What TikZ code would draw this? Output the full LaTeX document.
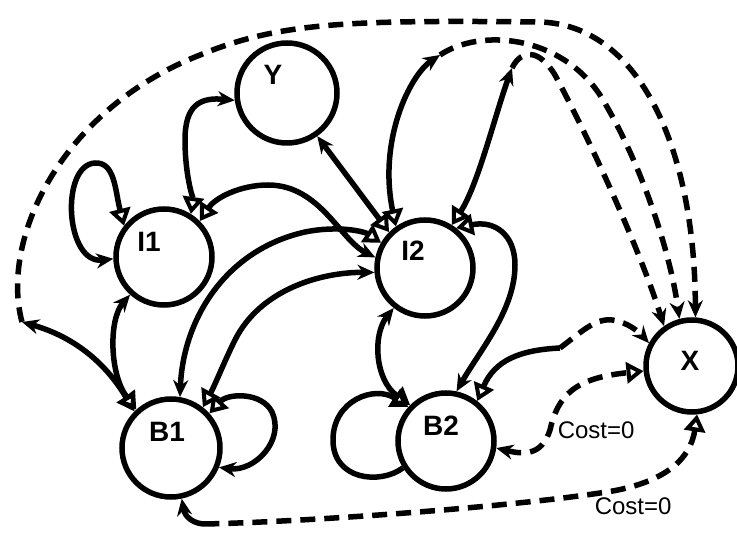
\documentclass[tikz,border=0pt]{standalone}
\usepackage{fontspec}
\newfontfamily\statefont{Liberation Sans}
\usetikzlibrary{arrows.meta}

\begin{document}
\begin{tikzpicture}[x=1pt,y=-1pt]
\tikzset{state/.style={circle,draw,line width=5.5pt,minimum size=96pt,inner sep=0pt},
statelabel/.style={font=\statefont\fontsize{28}{28}\selectfont\bfseries},
cost/.style={font=\statefont\fontsize{24}{24}\selectfont,inner sep=0pt},
solidtip/.tip={Stealth[length=17pt,width=15pt]},
opentip/.tip={Triangle[open,length=17pt,width=21pt,line width=4pt]},
wire/.style={line width=5.5pt},
link/.style={wire,solidtip-opentip},
dashline/.style={wire,dash pattern=on 15pt off 9pt}}
\useasboundingbox (0,0) rectangle (737,534);

\node[state,minimum size=100pt,label={[statelabel,xshift=-14pt,yshift=18pt]center:Y}] (Y) at (287,93) {};
\node[state,label={[statelabel,xshift=-15pt,yshift=15pt]center:I1}] (I1) at (164,257) {};
\node[state,label={[statelabel,xshift=-12pt,yshift=17pt]center:I2}] (I2) at (425,268) {};
\node[state,minimum size=98pt,label={[statelabel,xshift=-4pt,yshift=16pt]center:B1}] (B1) at (171,448) {};
\node[state,label={[statelabel,xshift=-5pt,yshift=15pt]center:B2}] (B2) at (446,441) {};
\node[state,minimum size=92pt,label={[statelabel,xshift=-2pt,yshift=5pt]center:X}] (X) at (692,366) {};

\coordinate (c1) at (22,322);
\coordinate (t1) at (440,55);
\coordinate (t2) at (512,68);
\coordinate (c3) at (560,348);
\coordinate (c5) at (205,524);

% solid transitions
\draw[link] (I1.182) .. controls (65,265) and (60,165) .. (95,163) .. controls (115,162) and (115,190) .. (I1.142);
\draw[link] (Y.188) .. controls (200,97) and (185,105) .. (185,140) .. controls (185,175) and (193,200) .. (I1.58);
\draw[link] (Y.-55) -- (I2.135);
\draw[link] (I2.168) .. controls (340,240) and (320,185) .. (268,185) .. controls (240,185) and (215,198) .. (I1.45);
\draw[link] (B1.80) .. controls (183,320) and (225,250) .. (305,232) .. controls (340,225) and (365,232) .. (I2.150);
\draw[link] (I2.185) .. controls (320,272) and (260,290) .. (235,340) .. controls (225,360) and (215,385) .. (B1.52);
\draw[link] (I1.228) .. controls (108,320) and (110,375) .. (B1.132);
\draw[link] (B1.-22) .. controls (255,472) and (285,440) .. (272,412) .. controls (262,392) and (228,393) .. (B1.42);
\draw[link] (I2.232) .. controls (372,335) and (375,380) .. (B2.135);
\draw[link] (B2.78) .. controls (480,350) and (515,310) .. (515,265) .. controls (515,235) and (495,220) .. (I2.52);
\draw[wire,-opentip] (B2.212) .. controls (380,485) and (333,480) .. (333,440) .. controls (333,400) and (375,385) .. (B2.138);
\draw[link] (c1) .. controls (50,330) and (95,345) .. (B1.135);
\draw[link] (t1) .. controls (410,75) and (378,140) .. (I2.125);
\draw[link] (t2) .. controls (495,115) and (478,185) .. (I2.58);
\draw[wire,-opentip] (c3) .. controls (520,350) and (495,360) .. (B2.52);
\draw[wire,-solidtip] (c5) .. controls (195,524) and (185,518) .. (B1.-78);

% cost links
\draw[dashline,-solidtip] (c1) .. controls (0,240) and (60,110) .. (200,55) .. controls (280,22) and (350,20) .. (540,22) .. controls (640,25) and (695,150) .. (X.86);
\draw[dashline,-solidtip] (t1) .. controls (480,28) and (560,35) .. (600,95) .. controls (640,160) and (670,250) .. (X.105);
\draw[dashline,-solidtip] (t2) .. controls (522,48) and (540,50) .. (555,75) .. controls (590,140) and (640,250) .. (X.125);
\draw[dashline,-solidtip] (c3) .. controls (580,333) and (595,318) .. (612,320) .. controls (628,322) and (640,333) .. (X.152);
\draw[link,dashline] (B2.-8) .. controls (525,455) and (542,455) .. (550,430) node[cost,anchor=west,xshift=5pt] {Cost=0} .. controls (558,395) and (575,378) .. (X.186);
\draw[dashline,opentip-] (X.-84) .. controls (690,462) and (660,485) .. (600,493) node[cost,anchor=north west,xshift=-8pt,yshift=-2pt] {Cost=0} .. controls (500,508) and (300,522) .. (c5);
\end{tikzpicture}
\end{document}
